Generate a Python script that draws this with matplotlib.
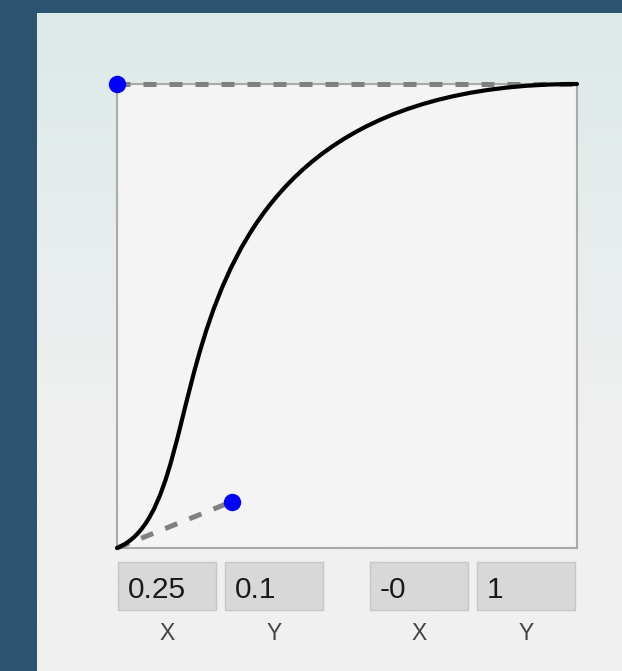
import numpy as np
import matplotlib.pyplot as plt
import matplotlib.patches as mpatches
from matplotlib.path import Path

# --- dados: curva cubic-bezier ---
P0 = (0.0, 0.0)
P1 = (0.25, 0.1)
P2 = (-0.0, 1.0)
P3 = (1.0, 1.0)
box_values = ["0.25", "0.1", "-0", "1"]
box_labels = ["X", "Y", "X", "Y"]

W, H = 622, 671
fig = plt.figure(figsize=(W / 100, H / 100), dpi=100)
fig.patch.set_facecolor('#2c5370')
FONT = ['Liberation Sans', 'DejaVu Sans']

def fx(px):
    return px / W

def fy(py):
    return 1 - py / H

# painel de fundo com gradiente
bg = fig.add_axes([fx(37), 0, 1 - fx(37), fy(13)])
grad = np.linspace(0, 1, 256).reshape(-1, 1)
top = np.array([0xdd, 0xe9, 0xe9]) / 255
bot = np.array([0xf0, 0xf0, 0xf0]) / 255
img = top + (bot - top) * np.clip(grad * 1.6, 0, 1)[:, :, None]
bg.imshow(img.reshape(256, 1, 3), aspect='auto', extent=[0, 1, 0, 1])
bg.axis('off')

# area do grafico
ax = fig.add_axes([fx(117), fy(548), (577 - 117) / W, (548 - 84) / H])
ax.set_facecolor('#f4f4f4')
ax.set_xlim(0, 1)
ax.set_ylim(0, 1)
ax.set_xticks([])
ax.set_yticks([])
for s in ax.spines.values():
    s.set_color('#aaaaaa')
    s.set_linewidth(1.5)

dash = (0, (2.6, 2.6))
ax.plot([P0[0], P1[0]], [P0[1], P1[1]], color='#808080', lw=3.6, ls=dash, clip_on=False, zorder=3)
ax.plot([P2[0], P3[0]], [P2[1], P3[1]], color='#808080', lw=3.6, ls=dash, clip_on=False, zorder=3)

path = Path([P0, P1, P2, P3], [Path.MOVETO, Path.CURVE4, Path.CURVE4, Path.CURVE4])
ax.add_patch(mpatches.PathPatch(path, facecolor='none', edgecolor='black', lw=3,
                                capstyle='round', clip_on=False, zorder=4))

ax.plot([P1[0], P2[0]], [P1[1], P2[1]], 'o', color='#0000ff', ms=11.5, clip_on=False, zorder=5)

# caixas de entrada
box_x = [118, 225, 370, 477]
for x0, val, lab in zip(box_x, box_values, box_labels):
    fig.patches.append(mpatches.Rectangle((fx(x0), fy(610)), 98 / W, 48 / H,
                                          transform=fig.transFigure, facecolor='#d8d8d8',
                                          edgecolor='#c6c6c6', lw=1))
    fig.text(fx(x0 + 10), fy(587), val, fontsize=21.5, color='#1a1a1a', va='center_baseline',
             ha='left', family=FONT)
    fig.text(fx(x0 + 49), fy(631), lab, fontsize=16.5, color='#444444', va='center_baseline',
             ha='center', family=FONT)

fig.savefig('out.png', dpi=100, facecolor=fig.get_facecolor())
